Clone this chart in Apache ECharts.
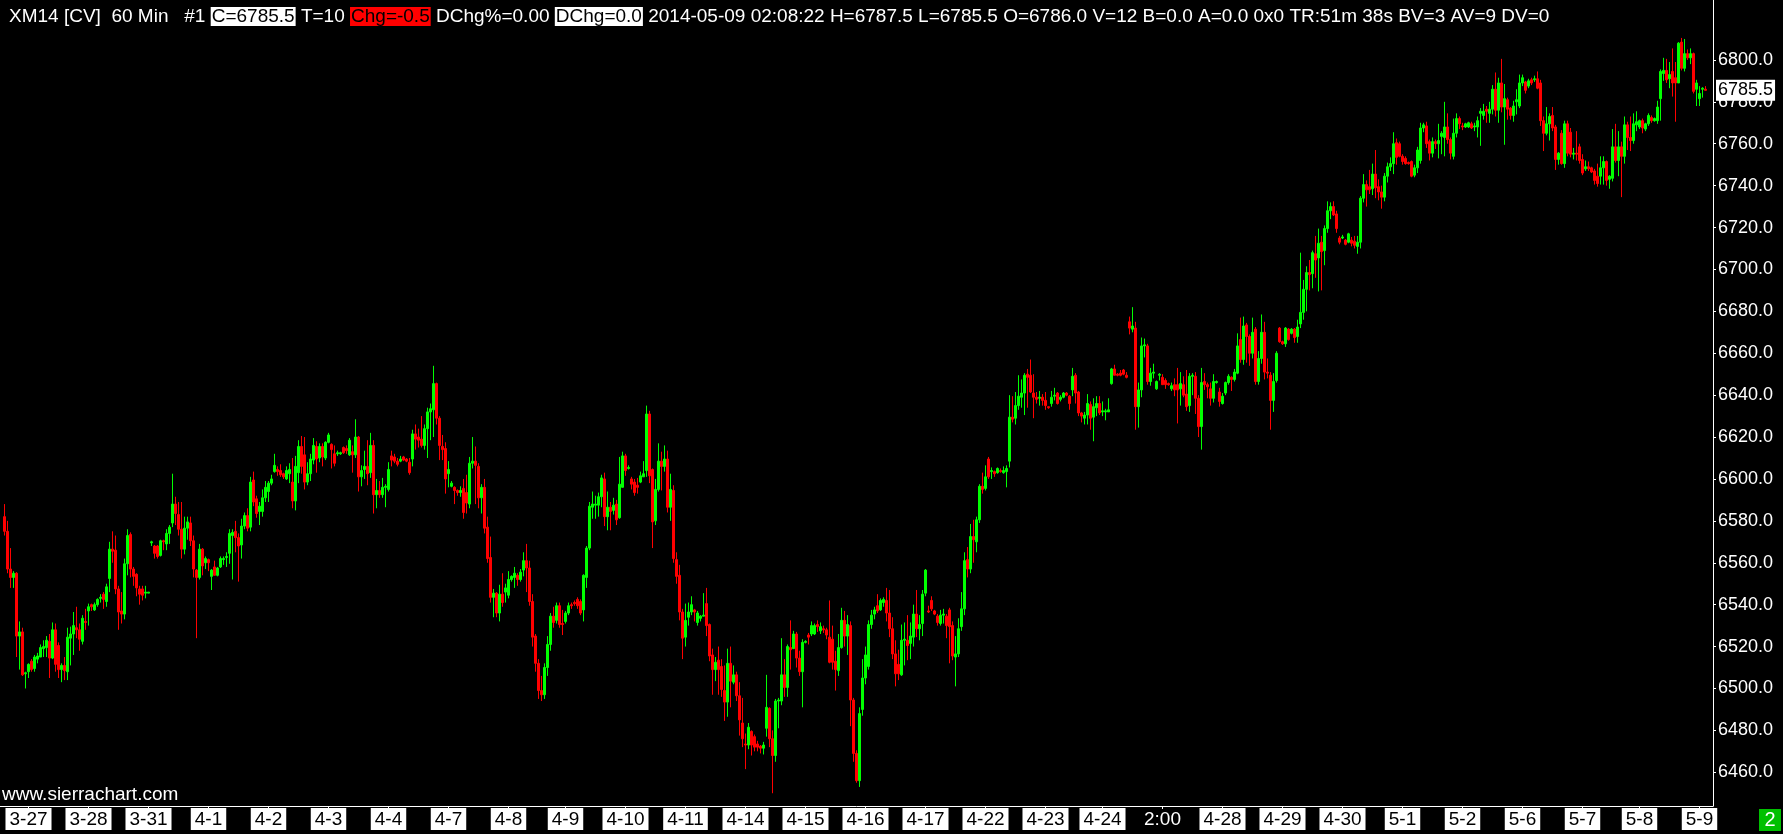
<!DOCTYPE html>
<html>
<head>
<meta charset="utf-8">
<script src="https://cdn.jsdelivr.net/npm/echarts@6/dist/echarts.min.js"></script>
<style>
html,body{margin:0;padding:0;background:#000;}
#chart{width:1783px;height:834px;}
</style>
</head>
<body>
<div id="chart"></div>
<script>
// ---- DATA ----
// x-axis labels (dates / time) and the bar slot at which each label sits
const dateLabels = ['3-27','3-28','3-31','4-1','4-2','4-3','4-4','4-7','4-8','4-9','4-10','4-11','4-14','4-15','4-16','4-17','4-22','4-23','4-24','2:00','4-28','4-29','4-30','5-1','5-2','5-6','5-7','5-8','5-9'];
const labelSlots = [9,29,49,69,89,109,129,149,169,188,208,228,248,268,288,308,328,348,367,387,407,427,447,467,487,507,527,546,566];
const priceTicks = [6460,6480,6500,6520,6540,6560,6580,6600,6620,6640,6660,6680,6700,6720,6740,6760,6780,6800];

// 60-minute bars as [open, close, low, high]
const barsMarch = [
[6582,6575,6573,6588],[6575,6557,6555,6580],[6557,6553,6548,6567],[6553,6555,6548,6556],[6555,6525,6515,6555.5],
[6525,6527,6509,6532],[6527,6506.5,6506,6529],[6507,6507.5,6500,6508],[6508,6511.5,6505,6512],[6513,6509,6508,6514],
[6509.5,6515,6508,6516],[6514,6515.5,6512,6517],[6515,6519.5,6515,6521],[6519,6520,6515,6523],[6519.5,6523,6515,6525],
[6522.5,6514.5,6505,6526],[6514.5,6528,6514,6531.5],[6528,6511.5,6508,6531],[6520.5,6509,6505,6522],[6509,6511,6503,6512],
[6511,6508.5,6504,6515],[6508,6524.5,6504,6529],[6524,6526,6511,6529.5],[6526,6530,6516,6536.5],[6529,6528,6524,6539],
[6528,6523.5,6518,6531],[6522.5,6533.5,6521,6535],[6532,6531.5,6528,6538],[6537,6539,6530,6540.5],[6540,6539,6537,6540.5],
[6537.5,6540,6537,6541],[6540,6542.5,6539,6543],[6543,6543.5,6541,6545],[6545,6542.5,6538,6546],[6541.5,6548.5,6539,6550],
[6552.5,6566.5,6546,6570],[6566.5,6565.5,6560,6575],[6566,6547.5,6545,6573],[6547.5,6536.5,6528,6549],[6537,6535.5,6531,6546],
[6535.5,6559.5,6533,6562],[6559.5,6573,6554,6576],[6573.5,6557,6553,6574.5],[6557,6553.5,6549,6558],[6554.5,6548,6544,6555],
[6547.5,6545,6540,6549],[6547.5,6544.5,6542,6549],[6545.5,6546,6543,6549],[6545.5,6546,6545.5,6546],[6569.5,6570,6568,6570.5],
[6568,6564.5,6562,6568.5],[6568,6563,6562,6568.5],[6563.5,6570.5,6563,6571],[6570.5,6570,6566,6571],[6569,6574,6566,6576],
[6574,6577,6569,6578],[6579,6588,6577,6602.5],[6588,6583.5,6578,6591.5],[6583,6576,6573,6589],[6576,6566.5,6562,6589],
[6566.5,6576.5,6564,6582],[6576.5,6579.5,6571,6582],[6579,6570.5,6568,6582],[6570.5,6557,6553,6573],[6556.5,6553,6524,6557],
[6553,6566.5,6552,6569],[6566.5,6558.5,6554,6567],[6560,6562,6557,6563],[6561.5,6560,6556,6562],[6553.5,6556.5,6547,6557],
[6558,6554,6554,6561],[6554,6557.5,6553.5,6558],[6558,6562,6557.5,6563],[6561.5,6562,6559,6563],[6562.5,6563,6558,6565],
[6564.5,6574,6559.5,6576],[6573,6574.5,6552,6576],[6575,6572,6565,6580],[6572,6568,6551,6574],[6568.5,6577.5,6562,6581],
[6577.5,6582.5,6576,6584],[6582.5,6576.5,6575,6586],[6577,6598.5,6575,6601],[6599.5,6589,6587,6603.5],[6590.5,6583.5,6581.5,6592],
[6584.5,6587,6578,6589],[6584.5,6591,6582,6595],[6591,6596,6589,6599],[6594,6598,6589,6599],[6598,6600,6597,6602],
[6603.5,6606.5,6603,6612],[6604.5,6603.5,6601.5,6606],[6604,6602,6601,6607],[6602.5,6601,6600,6603],[6600,6604,6599.5,6606],
[6602.5,6604.5,6598,6607.5],[6598.5,6589.5,6586,6610],[6589.5,6606,6585,6611],[6603,6615.5,6598,6618.5]
];
const barsEarlyApril = [
[6615.5,6606,6602.5,6620.5],[6611.5,6598.5,6595,6620],[6598.5,6602.5,6597,6608],[6602.5,6609.5,6599,6612],[6609,6616,6607,6619.5],
[6615.5,6609.5,6603,6618],[6610,6615.5,6608,6617],[6615.5,6610.5,6606,6617],[6610,6617.5,6609,6618],[6617.5,6621,6617,6622],
[6616.5,6614,6605,6617],[6612,6607.5,6606,6616],[6612,6612.5,6611,6613.5],[6612,6612.5,6611.5,6613],[6615,6612.5,6612,6615.5],
[6614.5,6613.5,6612,6616],[6611.5,6618.5,6611,6619.5],[6613,6611.5,6603,6616],[6611.5,6620,6610,6628.5],[6620,6601,6594,6620.5],
[6601,6604,6596.5,6606.5],[6604.5,6606,6600,6613.5],[6606,6602.5,6597,6618.5],[6603,6616,6600.5,6622],[6616,6592.5,6583.5,6618.5],
[6592.5,6594.5,6586,6600],[6594.5,6592.5,6591,6599],[6592.5,6596,6591,6600.5],[6596,6596.5,6586.5,6597.5],[6595,6604.5,6594,6608],
[6611,6609,6606,6613.5],[6610.5,6608.5,6607.5,6612],[6608.5,6607,6606,6610],[6608.5,6609.5,6608,6611],[6610.5,6609,6608.5,6611],
[6609.5,6608.5,6608,6610],[6608,6603,6602,6610],[6609.5,6621.5,6606,6623.5],[6621.5,6619,6614,6626],[6620,6618.5,6615,6624],
[6619,6616,6615,6630],[6616,6624,6614,6626],[6624,6632,6610,6634],[6632,6633.5,6618.5,6636],[6633,6645.5,6620,6654],
[6645.5,6629,6626,6646],[6629,6616,6609,6630],[6615.5,6614,6609,6621],[6614.5,6600,6593,6617.5],[6602.5,6604.5,6596,6608.5],
[6596.5,6598,6596,6599],[6596,6594.5,6588,6596.5],[6594.5,6593.5,6592,6595],[6593.5,6594.5,6591.5,6596.5],[6595.5,6584,6581,6600],
[6593.5,6588.5,6583.5,6602],[6588,6607.5,6586,6610.5],[6607.5,6608.5,6605,6620],[6608.5,6606.5,6588,6615.5],[6606,6591,6586,6607.5],
[6591,6596,6583.5,6597.5],[6596,6576.5,6574,6600],[6577,6562,6560,6582],[6562.5,6543.5,6541,6572.5],[6543.5,6545.5,6534,6547.5],
[6545.5,6536,6534,6546],[6536,6545,6532,6549.5],[6545,6541,6539,6555],[6546,6548,6541,6550],[6544.5,6552,6543,6556],
[6552,6553.5,6551,6554],[6553,6555,6548,6558],[6554,6552,6549,6555],[6552,6555.5,6551,6557],[6556.5,6561,6553.5,6565],
[6561,6557.5,6546,6569],[6557.5,6541.5,6539.5,6561],[6541.5,6524.5,6520,6545],[6525,6512,6508,6526],[6512,6499,6495,6514],
[6499,6497,6494,6506],[6497,6510,6495,6512],[6510,6521,6506,6525],[6521,6534.5,6518,6536],[6534.5,6531.5,6529,6539],
[6532.5,6539.5,6531,6541],[6539.5,6530.5,6529,6541],[6531,6530.5,6525.5,6537.5],[6532,6536,6531,6537],[6536,6539.5,6535,6541],
[6540,6539.5,6538,6541],[6541,6540.5,6539.5,6542],[6542.5,6539.5,6538,6543.5]
];
const barsMidApril = [
[6541.5,6536,6535,6542.5],[6537.5,6554,6532,6554.5],[6553,6567,6548,6568],[6567,6587,6566,6589],[6586.5,6588,6581,6594],
[6587.5,6588,6581,6592],[6587.5,6591.5,6582,6593.5],[6591.5,6600.5,6586.5,6602],[6600,6582,6577.5,6603],[6582,6586.5,6575.5,6594],
[6586.5,6584.5,6575.5,6589],[6585,6587.5,6583,6591],[6588,6580.5,6578,6590],[6581.5,6597.5,6581,6610.5],[6596,6611,6596,6613],
[6611,6604,6601.5,6612],[6605,6605.5,6604.5,6606.5],[6600,6597.5,6595,6601],[6598.5,6593.5,6592,6600],[6597,6596,6593,6600.5],
[6598.5,6601.5,6598,6603.5],[6601,6602.5,6601,6608.5],[6604,6631,6601,6635],[6631,6601.5,6598,6632.5],[6604.5,6579.5,6567,6605],
[6580,6595,6578,6600],[6595,6608.5,6594,6617],[6608.5,6606,6594.5,6613],[6606,6609.5,6603.5,6616],[6609.5,6586.5,6584,6613.5],
[6586.5,6595,6580,6602.5],[6594.5,6562,6560,6597],[6561.5,6553.5,6550,6565],[6554,6536.5,6532.5,6559],[6536.5,6524,6514,6538],
[6524.5,6532.5,6520,6540.5],[6534,6536.5,6530,6541],[6536.5,6540,6535,6544],[6537.5,6536.5,6532,6538],[6531.5,6536,6530,6537],
[6533.5,6534.5,6532,6535],[6534.5,6535,6534.5,6545.5],[6540.5,6530,6525,6548],[6530.5,6515.5,6513,6531],[6516,6509,6497,6519],
[6509,6512.5,6503.5,6515],[6513.5,6509,6497,6520],[6510.5,6499.5,6496,6514],[6499,6493.5,6484.5,6511],[6493.5,6512,6486.5,6519],
[6512,6503.5,6491,6520],[6503,6506.5,6502,6511],[6506.5,6496.5,6494,6508],[6496.5,6485,6477.5,6503],[6483.5,6476,6472,6495.5],
[6473.5,6473,6461.5,6478.5],[6473,6481.5,6471,6483.5],[6479.5,6473,6468,6480],[6477,6472,6470,6478],[6473.5,6472,6470,6475],
[6472.5,6471.5,6469,6473],[6471.5,6473,6468.5,6474.5],[6481,6491,6477,6506.5],[6490.5,6476,6472,6491],[6476,6468,6450,6480],
[6468,6494,6465,6495],[6494,6494.5,6481,6495.5],[6494,6506.5,6492,6524],[6506.5,6500.5,6496,6514],[6500.5,6520,6496,6521],
[6519.5,6518.5,6509,6532.5],[6519,6526,6519,6527.5],[6526,6514.5,6510,6527],[6514.5,6508,6506,6518],[6508,6522,6491,6523.5],
[6522,6522.5,6521.5,6523],[6525.5,6524.5,6521,6526.5],[6526,6530,6525,6532],[6526,6530,6525.5,6531],[6530.5,6529.5,6527,6532.5],
[6527.5,6529.5,6526,6531.5],[6528.5,6528,6526.5,6530],[6528,6525.5,6523.5,6529],[6524.5,6512.5,6512,6542],[6523.5,6512.5,6509,6530],
[6513,6509,6499,6518],[6508.5,6519.5,6506,6526],[6519.5,6532.5,6519,6538.5],[6532.5,6525,6520,6537],[6525,6530.5,6516,6535],
[6530,6494.5,6482,6532],[6494.5,6469,6465,6495.5],[6469,6456,6455,6470.5],[6456,6488,6453,6491],[6490,6505,6487,6514],
[6505,6516,6502,6520],[6510.5,6530.5,6509,6532.5],[6530.5,6535,6528.5,6537.5],[6535.5,6537.5,6533,6539],[6539.5,6537,6536,6545],
[6537.5,6542,6537,6543],[6541,6542.5,6539,6543.5],[6542,6536,6532,6548],[6536,6528.5,6524.5,6547],[6528.5,6516.5,6514,6534],
[6516.5,6507,6501,6523],[6511.5,6507,6504,6518.5]
];
const barsLateApril = [
[6506.5,6523,6506,6530.5],[6523,6523.5,6511,6531.5],[6523,6520.5,6513.5,6535],[6521.5,6525,6514,6531.5],[6524.5,6535.5,6520,6540],
[6535.5,6528.5,6524.5,6547],[6528.5,6530.5,6523,6535],[6531,6545,6525,6547],[6545.5,6556.5,6544,6557],[6537,6536.5,6536,6539.5],
[6542,6538,6537,6544],[6537,6535.5,6535,6537.5],[6534.5,6531.5,6530,6535.5],[6531,6535,6530,6537.5],[6535,6535.5,6531,6538],
[6534.5,6530,6524,6535.5],[6537.5,6529.5,6512,6538.5],[6530,6515.5,6513.5,6532],[6515,6516.5,6501,6525],[6516.5,6528.5,6515,6533.5],
[6529.5,6538,6527.5,6546],[6538,6561,6535,6565],[6561.5,6557,6553,6567.5],[6557,6572.5,6555,6578.5],[6572.5,6571,6560,6580.5],
[6570,6580.5,6565,6582],[6580.5,6596.5,6579,6597.5],[6596.5,6595,6593,6603],[6595.5,6601,6594.5,6606.5],[6609.5,6601,6600,6610.5],
[6603.5,6604,6600,6605.5],[6603.5,6602.5,6601,6604],[6603,6605,6602.5,6605.5],[6604,6603.5,6603,6605],[6603,6604,6602.5,6606],
[6603.5,6605,6596,6606.5],[6608.5,6629.5,6605.5,6640],[6629.5,6628.5,6627,6639.5],[6629,6635,6626,6641.5],[6635,6639.5,6633,6649.5],
[6639,6641,6634,6647.5],[6641,6649.5,6630.5,6650.5],[6650,6648.5,6634,6652.5],[6649.5,6641.5,6641,6657],[6641,6639,6629,6650],
[6639,6638,6636,6641.5],[6638.5,6639,6635,6642],[6639,6637.5,6635,6640.5],[6637.5,6635,6633,6641.5],[6634.5,6634,6633.5,6634.5],
[6636,6639,6634.5,6642],[6639.5,6640,6637.5,6643.5],[6641,6636,6635.5,6641.5],[6638,6639,6637,6640],[6639,6641,6638.5,6641.5],
[6641,6640,6639.5,6641.5],[6639.5,6636,6633,6640],[6642.5,6649,6639.5,6653],[6649.5,6641,6636,6650.5],[6641.5,6631.5,6630,6642],
[6631.5,6630,6627,6632],[6629,6630.5,6626,6632],[6630.5,6636,6626,6640.5],[6635.5,6629,6623.5,6637],[6629.5,6634.5,6618,6638.5],
[6634,6636,6630,6639.5],[6636,6631.5,6630.5,6639.5],[6632,6632.5,6630,6637],[6632,6632.5,6628,6633.5],[6632,6633,6632,6638.5],
[6645.5,6652.5,6645,6653],[6652.5,6649.5,6649.5,6654.5],[6650,6649.5,6649,6650.5],[6650.5,6649.5,6649,6652],[6652,6650,6649.5,6652.5],
[6649.5,6648.5,6648,6651],[6675,6672,6669,6677.5],[6671.5,6673,6670,6682],[6672,6634.5,6623.5,6675],[6634.5,6642.5,6624.5,6646],
[6642.5,6663.5,6639,6667.5],[6663.5,6664,6658,6667],[6663.5,6646.5,6645,6664.5],[6646.5,6650.5,6644.5,6653],[6650.5,6651,6648,6655],
[6643,6646.5,6642.5,6647],[6649.5,6650,6647,6650.5],[6648.5,6645,6645,6650],[6647,6645,6643,6648],[6645.5,6645,6644.5,6646],
[6643,6644.5,6642,6646],[6645,6642.5,6639.5,6648],[6645,6642.5,6626.5,6653],[6643,6645.5,6635,6651],[6645,6640,6639,6649],
[6640.5,6634.5,6632.5,6652]
];
const barsMay = [
[6635,6649,6632,6650.5],[6649,6649.5,6640,6650.5],[6649,6638.5,6631,6651],[6638.5,6625,6620,6640],[6625,6646,6614,6653],
[6646.5,6645,6642.5,6650.5],[6645,6644,6638.5,6646],[6643,6638.5,6635,6646],[6638.5,6646.5,6636.5,6650],[6646,6646.5,6645.5,6647],
[6641.5,6637,6634.5,6643.5],[6636,6639.5,6635.5,6641],[6641,6646,6640,6646.5],[6646,6649,6645,6650],[6648.5,6647.5,6642,6649],
[6647.5,6651,6646.5,6652.5],[6650.5,6663.5,6650,6669.5],[6666.5,6657,6655.5,6677],[6657,6673,6654.5,6677.5],[6673.5,6668,6655.5,6674.5],
[6668,6660,6654,6669],[6660,6670,6657.5,6677],[6671.5,6646.5,6645,6672.5],[6646.5,6657.5,6645,6661],[6657.5,6670,6655,6678.5],
[6670,6651,6647.5,6675],[6651,6650.5,6648,6657.5],[6649.5,6637.5,6623.5,6651],[6637.5,6646.5,6632,6650.5],[6647,6660,6646,6661],
[6672,6665.5,6665,6672.5],[6665.5,6664.5,6664,6666],[6664.5,6672,6663,6672.5],[6671.5,6666.5,6666,6672],[6669.5,6671.5,6669,6672],
[6671.5,6667.5,6665,6672],[6668,6672.5,6665,6676],[6674,6679.5,6672,6708],[6679.5,6690.5,6676,6695],[6690.5,6698.5,6680,6701.5],
[6698.5,6697.5,6690,6704.5],[6698,6708,6691,6709],[6707.5,6704.5,6696,6716],[6705.5,6712.5,6689.5,6719.5],[6713,6708.5,6690,6716],
[6709,6719.5,6702,6721],[6719.5,6728,6717.5,6732.5],[6728,6730,6724,6732],[6730,6726,6725.5,6732.5],[6726.5,6719.5,6717.5,6728],
[6715,6713,6712,6716],[6715,6715.5,6714.5,6716.5],[6714,6712,6711.5,6714.5],[6713,6717,6712.5,6717.5],[6714,6712.5,6711,6715.5],
[6713.5,6711.5,6710,6716],[6711,6713,6707.5,6716],[6713,6734,6710,6735],[6734,6740.5,6732,6745.5],[6740.5,6738,6730,6742.5],
[6739.5,6738,6736,6747.5],[6738.5,6745.5,6735.5,6750.5],[6745.5,6739,6734,6757],[6739.5,6737,6733,6743],[6737,6734.5,6729,6740],
[6734.5,6744.5,6732.5,6746],[6744.5,6749,6741.5,6751],[6749,6750.5,6747,6753.5],[6750.5,6760,6745.5,6765.5],[6760.5,6753.5,6750,6762.5],
[6760,6754,6753.5,6761],[6754,6751.5,6750,6755],[6753,6750.5,6750,6754],[6751,6750.5,6750,6751.5],[6751.5,6744.5,6744,6752],
[6745,6748.5,6744,6750],[6748.5,6757,6746,6758.5],[6752,6767.5,6750.5,6770],[6767.5,6769,6765.5,6770],[6768.5,6760,6758,6770.5],
[6761,6755.5,6752,6762],[6755.5,6761,6753.5,6763],[6761,6760,6757.5,6762],[6760,6761.5,6753,6769.5],[6763.5,6765,6755,6766],
[6763,6768,6754,6780],[6768,6762,6760,6774.5],[6762,6755.5,6752.5,6763],[6754,6765,6752.5,6772],[6765,6772,6763,6774.5],
[6772,6769.5,6767,6773],[6768.5,6768,6766.5,6770],[6768,6769.5,6767.5,6770],[6768,6770,6767.5,6770.5],[6769.5,6767.5,6767,6770.5],
[6768,6768.5,6766,6770],[6768,6771,6763,6773],[6774.5,6775.5,6759,6777],[6773.5,6775.5,6771.5,6779],[6776.5,6775.5,6770,6778],
[6774.5,6776.5,6770,6780],[6776.5,6786,6774,6788],[6786,6776,6773,6794],[6776,6789,6770,6791.5],[6789,6777.5,6775,6800.5],
[6777.5,6781.5,6759.5,6788.5],[6781,6776.5,6771.5,6782],[6777,6773.5,6771.5,6777.5],[6773.5,6778,6770.5,6780.5],[6780,6781,6774,6786],
[6778,6789,6777,6793],[6789,6791.5,6787.5,6793],[6789.5,6785.5,6784,6790],[6787.5,6790,6786.5,6791],[6790.5,6789,6788,6791.5],
[6790.5,6791,6789.5,6792.5],[6791,6786.5,6786,6794.5],[6789,6771,6768.5,6790.5],[6771,6765,6756.5,6773],[6765,6769.5,6764,6777.5],
[6769.5,6773,6761.5,6774.5],[6773.5,6767.5,6766,6777.5],[6768,6752.5,6747.5,6769],[6752.5,6755.5,6750,6756],[6765,6750.5,6750,6766.5],
[6750.5,6769.5,6748.5,6771],[6769.5,6755.5,6754,6771],[6765.5,6755,6753.5,6767.5],[6755,6755.5,6752.5,6758],[6755.5,6755,6752,6766],
[6758.5,6752,6750.5,6760],[6752.5,6746,6745,6755],[6748,6749,6747,6752],[6749,6748,6747,6751.5],[6748.5,6746.5,6746,6749],
[6747,6742.5,6740.5,6748],[6744.5,6741,6739.5,6750.5],[6744.5,6748.5,6740.5,6754],[6748.5,6751.5,6740.5,6754],[6751.5,6742.5,6740,6752],
[6743,6744.5,6738.5,6745],[6743.5,6758.5,6742,6767],[6758.5,6752,6751,6769.5],[6752,6758.5,6744.5,6766],[6758.5,6754,6734.5,6761],
[6754,6769,6750.5,6773],[6769,6763,6757,6770.5],[6763,6761.5,6756.5,6773],[6761.5,6769.5,6760,6774.5],[6769,6770.5,6766,6775.5],
[6768,6771,6767,6771.5],[6771,6767.5,6765,6772],[6767,6769.5,6766,6770],[6769.5,6773.5,6768.5,6774.5],[6772.5,6771,6770,6773.5],
[6771,6772,6770.5,6772.5],[6771,6777.5,6769.5,6780.5],[6781.5,6794.5,6771,6795.5],[6793.5,6795,6790,6801],[6795,6790.5,6789,6800.5],
[6791,6793,6786.5,6799],[6794.5,6789,6782.5,6805.5],[6791.5,6789,6770.5,6799],[6789,6808,6789,6808.5],[6808.5,6796,6795,6810.5],
[6796,6803,6794.5,6810],[6803,6801,6800,6805],[6801,6803,6798,6805.5],[6803,6785,6784,6803.5],[6786,6789,6778,6790.5],
[6781.5,6784,6778,6787.5],[6786,6786.5,6782,6787],[6786,6785.5,6785.5,6787.5]
];

// ---- BUILD ----
const FONT = '"Liberation Sans", Arial, sans-serif';
const bars = [].concat(barsMarch, barsEarlyApril, barsMidApril, barsLateApril, barsMay);
const SLOTS = 571;
const categories = new Array(SLOTS).fill('');
labelSlots.forEach((s, i) => { categories[s] = dateLabels[i]; });
const seriesData = new Array(SLOTS).fill(null).map(() => ['-', '-', '-', '-']);
bars.forEach((b, i) => { seriesData[i + 1] = b; });
const last = bars[bars.length - 1];
const f1 = v => v.toFixed(1);

const chart = echarts.init(document.getElementById('chart'), null, {renderer: 'canvas'});
const showLabel = (idx, val) => val !== '';
const HF = 19;
chart.setOption({
  backgroundColor: '#000',
  animation: false,
  grid: {left: 0, right: 70, top: 0, bottom: 28, containLabel: false, outerBoundsMode: 'none'},
  title: {
    left: 4, top: 1,
    text: '{w|XM14 [CV]  60 Min   #1 }{b|C=' + f1(last[1]) + '}{w| T=10 }{r|Chg=' + f1(last[1] - last[0]) + '}{w| DChg%=0.00 }{b|DChg=0.0}{w| 2014-05-09 02:08:22 H=' + f1(last[3]) + ' L=' + f1(last[2]) + ' O=' + f1(last[0]) + ' V=12 B=0.0 A=0.0 0x0 TR:51m 38s BV=3 AV=9 DV=0}',
    textStyle: {
      rich: {
        w: {color: '#fff', fontSize: HF, fontFamily: FONT, fontWeight: 'normal', lineHeight: 21},
        b: {color: '#000', backgroundColor: '#fff', fontSize: HF, fontFamily: FONT, fontWeight: 'normal', lineHeight: 21, padding: [0, 1]},
        r: {color: '#000', backgroundColor: '#ff0000', fontSize: HF, fontFamily: FONT, fontWeight: 'normal', lineHeight: 21, padding: [0, 1]}
      }
    }
  },
  xAxis: {
    type: 'category',
    data: categories,
    boundaryGap: true,
    axisLine: {show: true, lineStyle: {color: '#fff', width: 1}},
    axisTick: {show: true, interval: showLabel, alignWithLabel: true, length: 3, lineStyle: {color: '#fff'}},
    axisLabel: {
      interval: showLabel, margin: 3,
      formatter: v => v.indexOf(':') >= 0 ? '{t|' + v + '}' : '{d|' + v + '}',
      rich: {
        d: {color: '#000', backgroundColor: '#fff', fontSize: 19, fontFamily: FONT, padding: [2, 4, 1, 4], lineHeight: 20},
        t: {color: '#fff', fontSize: 19, fontFamily: FONT, padding: [2, 4, 1, 4], lineHeight: 20}
      }
    },
    splitLine: {show: false}
  },
  yAxis: {
    type: 'value',
    position: 'right',
    min: 6443.9,
    max: 6828.6,
    scale: true,
    axisLine: {show: true, lineStyle: {color: '#fff', width: 1}},
    axisTick: {show: true, customValues: priceTicks, length: 3, lineStyle: {color: '#fff'}},
    axisLabel: {customValues: priceTicks, margin: 5, color: '#fff', fontSize: 18, fontFamily: FONT, formatter: v => f1(v)},
    splitLine: {show: false}
  },
  graphic: [
    {type: 'text', left: 2, top: 785, style: {text: 'www.sierrachart.com', fill: '#fff', font: '19px ' + FONT}},
    {type: 'group', left: 1759, top: 809, children: [
      {type: 'rect', shape: {x: 0, y: 0, width: 22, height: 22}, style: {fill: '#00c000'}},
      {type: 'text', style: {text: '2', x: 11, y: 11, align: 'center', verticalAlign: 'middle', fill: '#fff', font: '20px ' + FONT}}
    ]}
  ],
  series: [{
    type: 'candlestick',
    data: seriesData,
    barWidth: 2,
    itemStyle: {color: '#00ff00', color0: '#ff0000', borderColor: '#00ff00', borderColor0: '#ff0000', borderWidth: 1},
    markLine: {
      silent: true, symbol: ['none', 'none'], animation: false,
      lineStyle: {color: 'rgba(0,0,0,0)', width: 0},
      label: {position: 'end', distance: 3, formatter: () => f1(last[1]), color: '#000', backgroundColor: '#fff',
              fontSize: 18, fontFamily: FONT, padding: [2, 2, 1, 2]},
      data: [{yAxis: last[1]}]
    }
  }]
});
</script>
</body>
</html>
